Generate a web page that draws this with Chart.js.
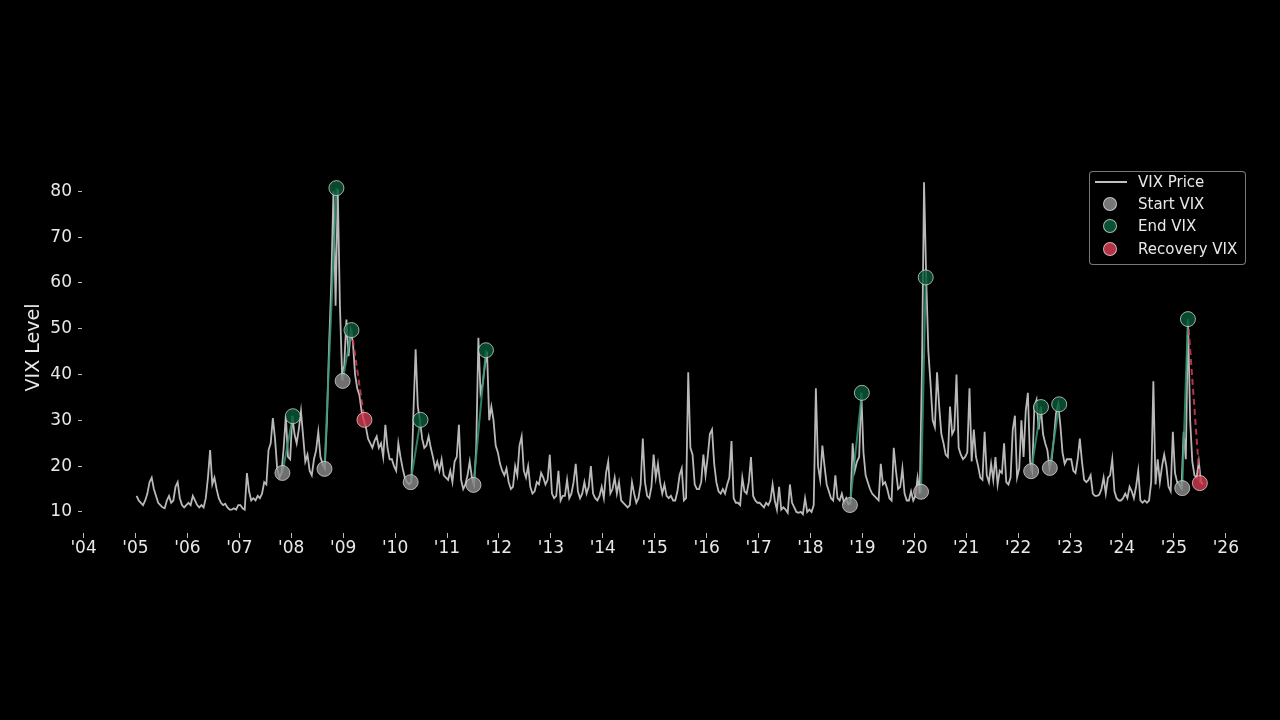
<!DOCTYPE html>
<html>
<head>
<meta charset="utf-8">
<script src="https://cdn.jsdelivr.net/npm/chart.js@4.4.1/dist/chart.umd.min.js"></script>
<style>
  html, body { margin: 0; padding: 0; background: #000; }
  #wrap { position: relative; width: 1280px; height: 720px; background: #000; }
  #legend {
    position: absolute; left: 1089px; top: 171px; width: 157px; height: 94px;
    box-sizing: border-box; border: 1px solid rgba(200, 200, 200, 0.6); border-radius: 4px;
    background: rgba(0, 0, 0, 0.8);
    font-family: "DejaVu Sans", sans-serif; font-size: 15px; color: #e8e8e8;
  }
  #legend .row { position: absolute; left: 0; width: 100%; height: 22px; }
  #legend .lbl { position: absolute; left: 48px; top: 0; line-height: 22px; white-space: nowrap; }
  #legend .sline { position: absolute; left: 5px; top: 10px; width: 32px; height: 1.5px; background: #c0c0c0; }
  #legend .dot {
    position: absolute; left: 13px; top: 4px; width: 14px; height: 14px; border-radius: 50%;
    box-sizing: border-box; border: 1px solid rgba(230, 230, 230, 0.7);
  }
</style>
</head>
<body>
<div id="wrap">
  <canvas id="vixChart" width="1280" height="720"></canvas>
  <div id="legend">
    <div class="row" style="top:-1px"><span class="sline"></span><span class="lbl">VIX Price</span></div>
    <div class="row" style="top:21px"><span class="dot" style="background:rgba(140,140,140,0.85)"></span><span class="lbl">Start VIX</span></div>
    <div class="row" style="top:43px"><span class="dot" style="background:rgba(10,90,55,0.9)"></span><span class="lbl">End VIX</span></div>
    <div class="row" style="top:66px"><span class="dot" style="background:rgba(210,60,80,0.85)"></span><span class="lbl">Recovery VIX</span></div>
  </div>
</div>
<script>
// VIX close, two readings per month (1st and 2nd half), from Jan 2005
const vixStartYear = 2005;
const vixPerYear = 24;
const vixValues = [
  // 2005
  13.5, 12.5, 12.0, 11.5, 12.5, 14.0, 16.5, 17.5, 15.0, 13.5, 12.0, 11.5, 11.0, 10.8, 12.5, 13.5, 12.0, 12.5, 15.5, 16.5, 13.0, 11.5, 11.0, 11.5,
  // 2006
  12.0, 11.5, 13.5, 12.5, 11.5, 11.0, 11.5, 11.0, 13.0, 17.5, 23.5, 16.0, 17.5, 15.0, 13.0, 12.0, 11.5, 11.8, 11.0, 10.5, 10.5, 10.8, 10.5, 11.5,
  // 2007
  11.5, 10.8, 10.5, 18.5, 14.5, 12.5, 13.0, 12.5, 13.5, 13.0, 14.0, 16.5, 16.0, 23.5, 25.0, 30.5, 26.0, 19.5, 17.5, 18.5, 24.0, 31.0, 22.0, 21.5,
  // 2008
  31.0, 27.0, 25.0, 28.0, 32.0, 26.5, 21.0, 22.5, 19.0, 18.0, 21.5, 23.5, 27.5, 22.0, 20.5, 19.5, 30.0, 46.5, 60.0, 80.0, 55.0, 80.5, 55.0, 40.0,
  // 2009
  42.0, 52.0, 44.0, 49.5, 47.0, 40.0, 37.0, 35.5, 32.0, 30.0, 28.5, 26.0, 25.0, 24.0, 25.5, 26.5, 24.0, 25.0, 22.0, 29.0, 24.0, 21.5, 21.5, 20.0,
  // 2010
  19.0, 25.0, 22.0, 19.5, 17.5, 16.5, 16.0, 16.5, 32.0, 45.5, 33.0, 30.0, 26.0, 24.0, 24.5, 26.5, 24.0, 22.0, 19.5, 21.0, 19.0, 21.5, 18.0, 17.5,
  // 2011
  17.0, 19.0, 16.5, 21.0, 22.0, 29.0, 17.0, 15.0, 16.0, 18.0, 21.0, 17.5, 16.0, 24.0, 48.0, 36.0, 38.0, 42.0, 45.0, 30.0, 33.0, 30.0, 24.5, 23.0,
  // 2012
  20.5, 19.0, 18.0, 19.5, 16.5, 15.0, 15.5, 20.0, 18.0, 24.5, 26.5, 19.0, 17.5, 20.0, 15.5, 14.0, 14.5, 16.5, 16.0, 18.5, 17.5, 16.0, 17.0, 22.5,
  // 2013
  14.0, 13.0, 13.5, 19.0, 12.5, 13.5, 13.5, 17.0, 13.0, 14.0, 16.5, 20.5, 14.5, 13.0, 14.0, 16.5, 14.0, 15.5, 20.0, 14.0, 13.0, 12.5, 13.5, 15.5,
  // 2014
  13.0, 18.5, 21.0, 14.0, 15.0, 17.5, 14.0, 16.5, 12.5, 12.0, 11.5, 11.0, 11.5, 16.5, 14.0, 12.0, 13.0, 16.0, 26.0, 16.5, 13.5, 13.0, 15.5, 22.5,
  // 2015
  17.5, 20.5, 16.5, 14.0, 16.0, 13.5, 13.0, 13.5, 12.5, 12.5, 14.5, 18.0, 19.5, 12.5, 13.0, 40.5, 24.0, 22.5, 16.0, 15.0, 15.0, 16.5, 22.5, 18.0,
  // 2016
  22.0, 27.0, 28.0, 20.5, 16.5, 14.5, 14.0, 15.0, 14.0, 16.0, 17.5, 25.5, 13.0, 12.0, 12.0, 11.5, 17.5, 14.5, 14.0, 16.5, 22.0, 13.5, 12.5, 12.0,
  // 2017
  12.0, 11.5, 11.0, 12.0, 11.5, 12.5, 16.0, 12.5, 10.5, 15.5, 10.5, 11.0, 10.5, 9.8, 16.0, 12.0, 11.0, 10.0, 9.8, 10.0, 9.5, 13.0, 10.0, 10.5,
  // 2018
  10.0, 11.5, 37.0, 20.0, 17.0, 24.5, 20.0, 16.0, 14.5, 13.0, 12.5, 18.0, 13.0, 12.5, 14.0, 12.0, 13.0, 11.7, 12.0, 25.0, 19.0, 21.0, 22.0, 36.0,
  // 2019
  23.0, 18.0, 16.5, 15.0, 14.0, 13.5, 13.0, 12.5, 20.5, 16.0, 16.5, 15.0, 13.0, 12.5, 24.0, 19.0, 15.0, 15.5, 19.5, 14.0, 12.5, 12.5, 14.5, 12.5,
  // 2020
  13.5, 17.5, 14.0, 40.0, 82.0, 61.0, 45.0, 38.0, 30.0, 28.5, 40.5, 33.0, 27.0, 25.0, 22.5, 22.0, 33.0, 27.0, 28.0, 40.0, 24.0, 22.5, 21.5, 22.0,
  // 2021
  23.0, 37.0, 21.0, 28.0, 22.0, 20.0, 17.5, 17.0, 27.5, 18.0, 16.5, 20.5, 17.0, 22.0, 16.0, 19.0, 18.5, 25.0, 16.5, 16.0, 17.5, 28.0, 31.0, 17.5,
  // 2022
  19.5, 30.0, 22.0, 32.0, 36.0, 21.0, 19.0, 33.0, 34.5, 28.0, 33.0, 27.0, 25.0, 23.5, 19.5, 21.5, 26.0, 31.5, 33.5, 29.0, 23.0, 20.5, 21.5, 21.5,
  // 2023
  21.5, 19.0, 18.5, 21.5, 26.0, 21.0, 17.0, 16.5, 17.0, 18.0, 14.0, 13.5, 13.5, 13.8, 15.0, 17.5, 14.0, 17.5, 18.0, 21.5, 14.5, 13.0, 12.5, 12.5,
  // 2024
  13.0, 14.0, 13.0, 15.5, 14.5, 13.0, 15.5, 19.0, 12.5, 12.0, 12.5, 12.0, 12.5, 16.5, 38.5, 16.0, 21.5, 16.5, 20.0, 22.5, 20.0, 15.5, 14.5, 27.5,
  // 2025 (to July)
  18.5, 16.5, 16.0, 15.2, 27.5, 21.5, 52.0, 30.0, 21.0, 18.0, 17.5, 21.0, 16.5, 16.0
];

// spike events: start -> end, and recovery after end
const startDates = [2007.83, 2008.64, 2008.99, 2010.30, 2011.51, 2018.76, 2020.13, 2022.25, 2022.61, 2025.16];
const startLevels = [18.5, 19.4, 38.6, 16.5, 15.9, 11.5, 14.4, 18.9, 19.6, 15.2];
const endDates = [2008.03, 2008.87, 2009.16, 2010.49, 2011.75, 2018.99, 2020.22, 2022.44, 2022.79, 2025.27];
const endLevels = [30.9, 80.7, 49.7, 30.1, 45.3, 36.0, 61.2, 32.9, 33.5, 52.1];
const recoveryEvent = [2, 9];
const recoveryDates = [2009.41, 2025.50];
const recoveryLevels = [30.1, 16.3];

const yearTicks = [2004, 2005, 2006, 2007, 2008, 2009, 2010, 2011, 2012, 2013, 2014, 2015,
  2016, 2017, 2018, 2019, 2020, 2021, 2022, 2023, 2024, 2025, 2026];
const levelTicks = [10, 20, 30, 40, 50, 60, 70, 80];

const txtColor = '#e8e8e8';
const tickColor = '#bdbdbd';

Chart.defaults.font.family = "'DejaVu Sans', sans-serif";
Chart.defaults.color = txtColor;

const vixPoints = vixValues.map((v, i) => ({ x: vixStartYear + (i + 0.5) / vixPerYear, y: v }));

const datasets = [];
datasets.push({
  label: 'VIX Price',
  data: vixPoints,
  borderColor: 'rgba(195,195,195,0.95)',
  borderWidth: 1.8,
  pointRadius: 0,
  tension: 0,
  order: 5,
});

for (let i = 0; i < startDates.length; i++) {
  datasets.push({
    label: 'rise' + i,
    data: [{ x: startDates[i], y: startLevels[i] }, { x: endDates[i], y: endLevels[i] }],
    borderColor: 'rgba(50,150,110,0.85)',
    borderWidth: 2,
    pointRadius: 0,
    order: 3,
  });
}
for (let j = 0; j < recoveryDates.length; j++) {
  let k = recoveryEvent[j];
  datasets.push({
    label: 'fall' + j,
    data: [{ x: endDates[k], y: endLevels[k] }, { x: recoveryDates[j], y: recoveryLevels[j] }],
    borderColor: 'rgba(215,60,85,0.85)',
    borderWidth: 2,
    borderDash: [6, 4],
    pointRadius: 0,
    order: 3,
  });
}

function markerSet(label, xs, ys, fill) {
  return {
    label: label,
    data: xs.map((x, i) => ({ x: x, y: ys[i] })),
    showLine: false,
    pointRadius: 7.5,
    pointBorderWidth: 1,
    pointBackgroundColor: fill,
    pointBorderColor: 'rgba(230,230,230,0.7)',
    order: 1,
  };
}
datasets.push(markerSet('Start VIX', startDates, startLevels, 'rgba(140,140,140,0.8)'));
datasets.push(markerSet('End VIX', endDates, endLevels, 'rgba(10,90,55,0.8)'));
datasets.push(markerSet('Recovery VIX', recoveryDates, recoveryLevels, 'rgba(210,60,80,0.8)'));

var vixChart = new Chart('vixChart', {
  type: 'line',
  data: { datasets: datasets },
  options: {
    responsive: false,
    animation: false,
    events: [],
    layout: { padding: { top: 162, right: 23, bottom: 0, left: 0 } },
    plugins: {
      legend: { display: false },
      tooltip: { enabled: false },
    },
    scales: {
      x: {
        type: 'linear',
        bounds: 'data',
        min: 2003.97,
        max: 2026.6,
        border: { display: false },
        grid: { drawOnChartArea: false, drawTicks: true, tickLength: 5, color: tickColor },
        ticks: {
          color: txtColor,
          font: { size: 17 },
          padding: 0,
          autoSkip: false,
          maxRotation: 0,
          callback: (v) => "'" + String(Math.round(v) % 100).padStart(2, '0'),
        },
        afterBuildTicks: (s) => { s.ticks = yearTicks.map(v => ({ value: v })); },
        afterFit: (s) => { s.height = 187; },
      },
      y: {
        type: 'linear',
        bounds: 'data',
        min: 5.4,
        max: 86.4,
        border: { display: false },
        grid: { drawOnChartArea: false, drawTicks: true, tickLength: 4, color: tickColor },
        ticks: { color: txtColor, font: { size: 17 }, padding: 6 },
        title: {
          display: true,
          text: 'VIX Level',
          color: txtColor,
          font: { size: 19 },
          padding: { top: 23, bottom: 0 },
        },
        afterBuildTicks: (s) => { s.ticks = levelTicks.map(v => ({ value: v })); },
        afterFit: (s) => { s.width = 82; },
      },
    },
  },
});
</script>
</body>
</html>
